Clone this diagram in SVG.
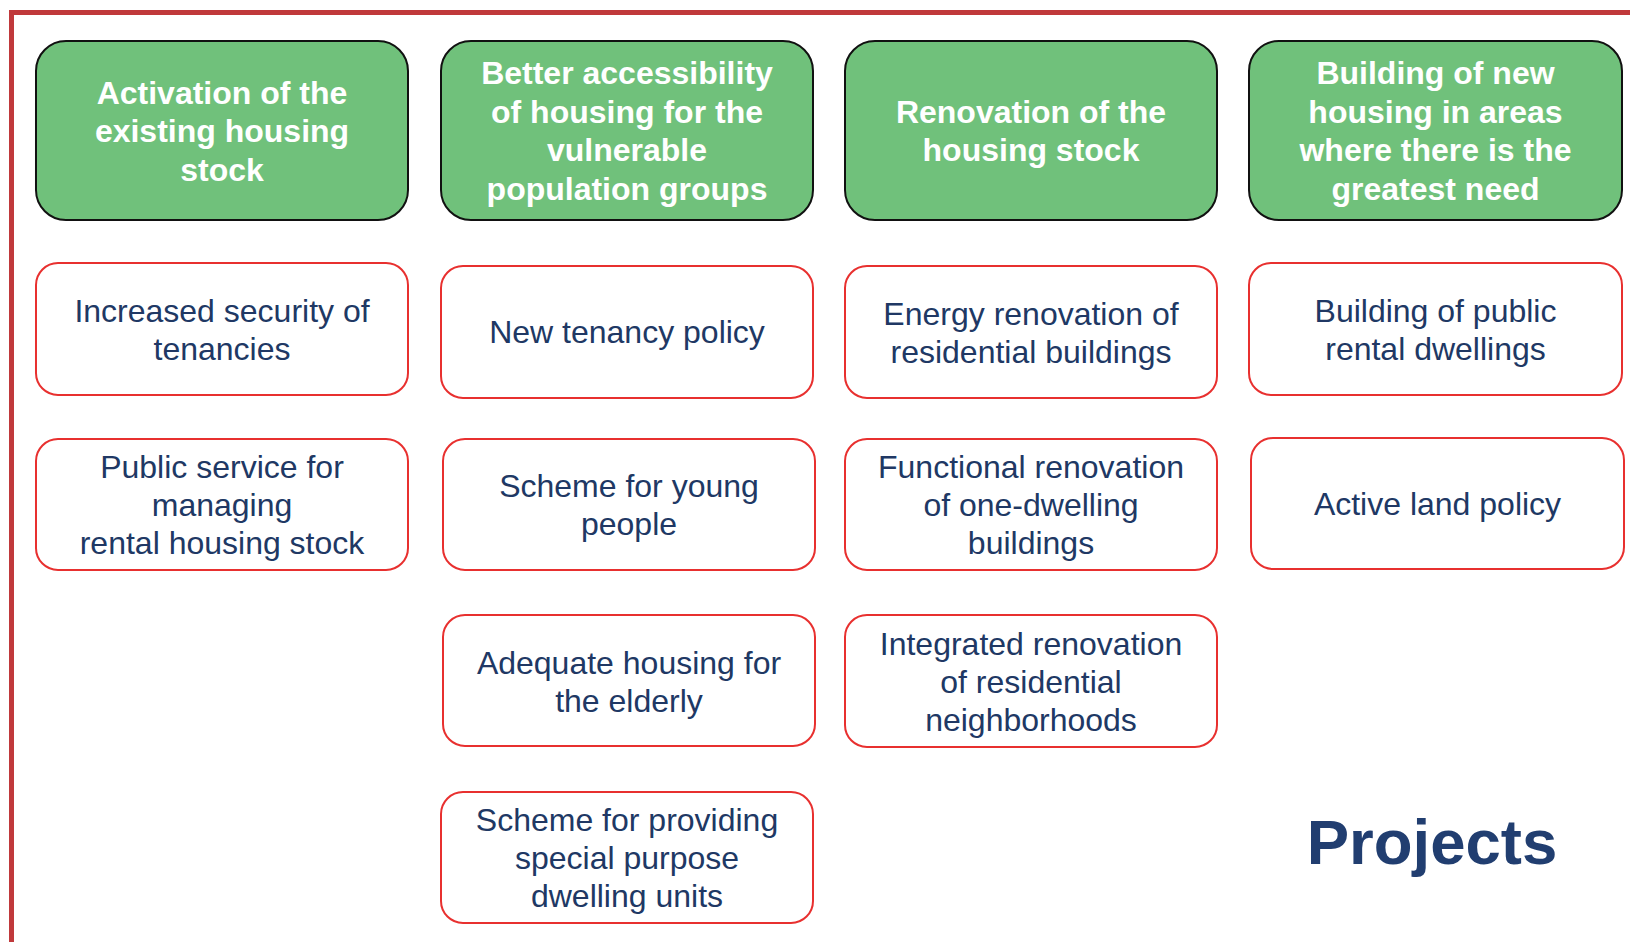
<svg xmlns="http://www.w3.org/2000/svg" width="1630" height="942" viewBox="0 0 1630 942">
<style>
.goal rect{fill:#70C17B;stroke:#111;stroke-width:2}
.goal text{font-family:"Liberation Sans",Arial,sans-serif;font-weight:bold;font-size:32px;fill:#fff;text-anchor:middle}
.proj rect{fill:#fff;stroke:#E8302F;stroke-width:2}
.proj text{font-family:"Liberation Sans",Arial,sans-serif;font-size:32px;fill:#203864;text-anchor:middle}
</style>
<rect width="1630" height="942" fill="#fff"/>
<path d="M11.5 942 V12.5 H1630" fill="none" stroke="#C0393B" stroke-width="5"/>
<g id="connectors"/>
<g id="g1" class="goal"><rect x="36" y="41" width="372" height="179" rx="30"/><text x="222"><tspan x="222" y="103.5">Activation of the</tspan><tspan x="222" y="142">existing housing</tspan><tspan x="222" y="180.5">stock</tspan></text></g>
<g id="g2" class="goal"><rect x="441" y="41" width="372" height="179" rx="30"/><text><tspan x="627" y="84">Better accessibility</tspan><tspan x="627" y="122.5">of housing for the</tspan><tspan x="627" y="161">vulnerable</tspan><tspan x="627" y="199.5">population groups</tspan></text></g>
<g id="g3" class="goal"><rect x="845" y="41" width="372" height="179" rx="30"/><text><tspan x="1031" y="122.5">Renovation of the</tspan><tspan x="1031" y="161">housing stock</tspan></text></g>
<g id="g4" class="goal"><rect x="1249" y="41" width="373" height="179" rx="30"/><text><tspan x="1435.5" y="84">Building of new</tspan><tspan x="1435.5" y="122.5">housing in areas</tspan><tspan x="1435.5" y="161">where there is the</tspan><tspan x="1435.5" y="199.5">greatest need</tspan></text></g>

<g id="p1" class="proj"><rect x="36" y="263" width="372" height="132" rx="22"/><text><tspan x="222" y="322">Increased security of</tspan><tspan x="222" y="360">tenancies</tspan></text></g>
<g id="p2" class="proj"><rect x="36" y="439" width="372" height="131" rx="22"/><text><tspan x="222" y="478">Public service for</tspan><tspan x="222" y="516">managing</tspan><tspan x="222" y="554">rental housing stock</tspan></text></g>

<g id="p3" class="proj"><rect x="441" y="266" width="372" height="132" rx="22"/><text><tspan x="627" y="343">New tenancy policy</tspan></text></g>
<g id="p4" class="proj"><rect x="443" y="439" width="372" height="131" rx="22"/><text><tspan x="629" y="497">Scheme for young</tspan><tspan x="629" y="535">people</tspan></text></g>
<g id="p5" class="proj"><rect x="443" y="615" width="372" height="131" rx="22"/><text><tspan x="629" y="674">Adequate housing for</tspan><tspan x="629" y="712">the elderly</tspan></text></g>
<g id="p6" class="proj"><rect x="441" y="792" width="372" height="131" rx="22"/><text><tspan x="627" y="831">Scheme for providing</tspan><tspan x="627" y="869">special purpose</tspan><tspan x="627" y="907">dwelling units</tspan></text></g>

<g id="p7" class="proj"><rect x="845" y="266" width="372" height="132" rx="22"/><text><tspan x="1031" y="325">Energy renovation of</tspan><tspan x="1031" y="363">residential buildings</tspan></text></g>
<g id="p8" class="proj"><rect x="845" y="439" width="372" height="131" rx="22"/><text><tspan x="1031" y="478">Functional renovation</tspan><tspan x="1031" y="516">of one-dwelling</tspan><tspan x="1031" y="554">buildings</tspan></text></g>
<g id="p9" class="proj"><rect x="845" y="615" width="372" height="132" rx="22"/><text><tspan x="1031" y="655">Integrated renovation</tspan><tspan x="1031" y="693">of residential</tspan><tspan x="1031" y="731">neighborhoods</tspan></text></g>

<g id="p10" class="proj"><rect x="1249" y="263" width="373" height="132" rx="22"/><text><tspan x="1435.5" y="322">Building of public</tspan><tspan x="1435.5" y="360">rental dwellings</tspan></text></g>
<g id="p11" class="proj"><rect x="1251" y="438" width="373" height="131" rx="22"/><text><tspan x="1437.5" y="515">Active land policy</tspan></text></g>

<text id="title" x="1432" y="864" style="font-family:'Liberation Sans',Arial,sans-serif;font-weight:bold;font-size:63.5px;fill:#213E70;text-anchor:middle">Projects</text>
</svg>
